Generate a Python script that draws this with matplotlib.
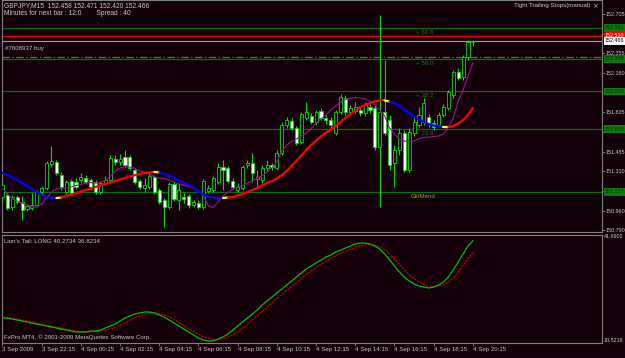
import matplotlib
matplotlib.use("Agg")
import matplotlib.pyplot as plt
from matplotlib.collections import LineCollection
from matplotlib.patches import Rectangle
import matplotlib.transforms as mtransforms

# ---------------- data ----------------
opens = [151.082, 151.100, 150.994, 151.082, 151.038, 150.976, 150.985, 151.012, 151.126, 151.162,
         151.375, 151.393, 151.277, 151.126, 151.224, 151.215, 151.233, 151.251, 151.233, 151.215,
         151.126, 151.206, 151.233, 151.419, 151.393, 151.437, 151.437, 151.322, 151.224, 151.162,
         151.171, 151.260, 151.144, 151.056, 150.994, 151.198, 151.056, 151.082, 151.091, 151.012,
         151.029, 150.994, 151.135, 151.144, 151.215, 151.348, 151.340, 151.224, 151.144, 151.162,
         151.366, 151.384, 151.242, 151.233, 151.340, 151.366, 151.340, 151.473, 151.721, 151.756,
         151.694, 151.570, 151.783, 151.801, 151.747, 151.845, 151.783, 151.765, 151.650, 151.836,
         151.960, 151.836, 151.845, 151.854, 151.827, 151.880, 151.871, 151.526, 151.836, 151.765,
         151.384, 151.499, 151.650, 151.322, 151.650, 151.721, 151.747, 151.792, 151.738, 151.721,
         151.810, 151.871, 151.987, 152.191, 152.146, 152.324, 152.458]
highs = [151.215, 151.126, 151.100, 151.100, 151.091, 151.021, 151.117, 151.144, 151.180, 151.402,
         151.535, 151.410, 151.304, 151.233, 151.242, 151.251, 151.295, 151.277, 151.251, 151.233,
         151.224, 151.269, 151.455, 151.455, 151.464, 151.499, 151.455, 151.340, 151.242, 151.251,
         151.286, 151.277, 151.162, 151.073, 151.215, 151.215, 151.206, 151.117, 151.109, 151.056,
         151.056, 151.242, 151.189, 151.269, 151.384, 151.410, 151.357, 151.251, 151.206, 151.366,
         151.410, 151.473, 151.322, 151.366, 151.410, 151.384, 151.499, 151.747, 151.792, 151.783,
         151.712, 151.836, 151.925, 151.827, 151.854, 151.871, 151.810, 151.792, 151.854, 151.996,
         151.987, 151.898, 151.925, 151.880, 151.925, 151.907, 151.898, 152.696, 152.297, 151.810,
         151.543, 151.694, 151.676, 151.694, 151.783, 151.880, 151.960, 151.818, 151.765, 151.836,
         151.907, 152.031, 152.208, 152.226, 152.341, 152.474, 152.471]
lows = [151.056, 150.967, 150.967, 151.021, 150.878, 150.958, 150.967, 150.994, 151.100, 151.144,
        151.348, 151.277, 151.144, 151.109, 151.100, 151.153, 151.206, 151.198, 151.144, 151.109,
        151.109, 151.189, 151.215, 151.366, 151.366, 151.348, 151.322, 151.198, 151.153, 151.126,
        151.153, 151.109, 151.021, 150.816, 150.976, 151.047, 150.967, 151.029, 150.985, 150.994,
        150.976, 150.976, 151.117, 151.126, 151.198, 151.144, 151.206, 151.153, 151.126, 151.144,
        151.340, 151.215, 151.171, 151.206, 151.313, 151.322, 151.322, 151.455, 151.694, 151.676,
        151.543, 151.552, 151.765, 151.729, 151.721, 151.765, 151.729, 151.694, 151.632, 151.818,
        151.810, 151.818, 151.827, 151.801, 151.801, 151.827, 151.499, 150.994, 151.632, 151.322,
        151.171, 151.455, 151.304, 151.304, 151.623, 151.703, 151.721, 151.703, 151.676, 151.703,
        151.792, 151.854, 151.960, 152.120, 152.120, 152.297, 152.420]
closes = [151.189, 150.985, 151.082, 151.038, 150.967, 151.003, 151.012, 151.126, 151.162, 151.384,
          151.402, 151.295, 151.171, 151.215, 151.117, 151.171, 151.260, 151.215, 151.171, 151.126,
          151.206, 151.233, 151.428, 151.393, 151.419, 151.366, 151.340, 151.215, 151.171, 151.189,
          151.269, 151.126, 151.038, 150.994, 151.198, 151.065, 151.144, 151.065, 151.012, 151.038,
          150.994, 151.224, 151.162, 151.251, 151.348, 151.322, 151.224, 151.171, 151.171, 151.348,
          151.384, 151.295, 151.260, 151.340, 151.366, 151.348, 151.473, 151.721, 151.765, 151.694,
          151.561, 151.818, 151.836, 151.747, 151.836, 151.783, 151.765, 151.721, 151.836, 151.969,
          151.836, 151.871, 151.880, 151.827, 151.898, 151.854, 151.526, 151.836, 151.650, 151.366,
          151.499, 151.650, 151.322, 151.659, 151.747, 151.810, 151.916, 151.729, 151.703, 151.810,
          151.880, 152.013, 152.191, 152.138, 152.324, 152.457, 152.466]

trend_ma = [151.295, 151.277, 151.255, 151.233, 151.206, 151.180, 151.153, 151.126, 151.100, 151.082,
            151.073, 151.073, 151.078, 151.091, 151.104, 151.117, 151.131, 151.144, 151.158, 151.171,
            151.184, 151.198, 151.211, 151.224, 151.238, 151.251, 151.264, 151.277, 151.286, 151.295,
            151.300, 151.304, 151.300, 151.286, 151.269, 151.251, 151.229, 151.206, 151.189, 151.162,
            151.131, 151.104, 151.087, 151.078, 151.073, 151.073, 151.078, 151.082, 151.096, 151.109,
            151.126, 151.144, 151.162, 151.184, 151.206, 151.224, 151.246, 151.277, 151.313, 151.357,
            151.402, 151.450, 151.499, 151.543, 151.583, 151.619, 151.650, 151.681, 151.712, 151.747,
            151.783, 151.818, 151.849, 151.876, 151.898, 151.916, 151.929, 151.938, 151.938, 151.929,
            151.916, 151.889, 151.858, 151.827, 151.796, 151.770, 151.747, 151.729, 151.716, 151.707,
            151.703, 151.703, 151.712, 151.734, 151.765, 151.810, 151.871]
# b = falling (blue), y = turning (yellow), r = rising (red)
trend_state = ("bbbbbbbbbbbb" "y" "rrrrrrrrrrrrrrrrrrr" "y" "bbbbbbbbbbbbb" "y"
               "rrrrrrrrrrrrrrrrrrrrrrrrrrrrrrrr" "y" "bbbbbbbbbbb" "y" "rrrrr")
fast_ma = [151.153, 151.109, 151.065, 151.047, 151.029, 151.012, 150.994, 150.994, 151.021, 151.073,
           151.126, 151.153, 151.162, 151.162, 151.171, 151.184, 151.193, 151.206, 151.211, 151.206,
           151.211, 151.229, 151.264, 151.309, 151.340, 151.348, 151.348, 151.335, 151.313, 151.304,
           151.286, 151.260, 151.251, 151.246, 151.229, 151.215, 151.198, 151.189, 151.175, 151.162,
           151.131, 151.091, 151.003, 150.989, 151.038, 151.091, 151.126, 151.153, 151.171, 151.184,
           151.206, 151.229, 151.251, 151.269, 151.304, 151.340, 151.393, 151.490, 151.543, 151.574,
           151.597, 151.623, 151.650, 151.685, 151.738, 151.774, 151.810, 151.854, 151.889, 151.925,
           151.947, 151.960, 151.965, 151.960, 151.951, 151.933, 151.898, 151.854, 151.801, 151.694,
           151.641, 151.597, 151.579, 151.570, 151.579, 151.601, 151.610, 151.614, 151.619, 151.623,
           151.641, 151.703, 151.783, 151.933, 152.031, 152.155, 152.270]

osc_green = [17.35, 17.35, 17.05, 16.76, 16.46, 16.17, 15.87, 15.57, 15.28, 14.98,
             14.68, 14.38, 14.09, 13.79, 13.49, 13.20, 13.20, 13.20, 13.49, 13.49,
             13.79, 14.38, 14.98, 15.57, 16.46, 17.35, 17.95, 18.54, 18.84, 19.13,
             19.13, 18.84, 18.24, 17.65, 16.76, 15.87, 14.98, 14.09, 13.20, 12.31,
             11.42, 10.82, 10.53, 10.52, 11.12, 11.71, 12.60, 13.79, 14.98, 16.17,
             17.35, 18.54, 19.73, 21.21, 22.40, 23.59, 24.77, 25.96, 27.15, 28.33,
             29.52, 30.71, 31.90, 32.79, 33.68, 34.57, 35.46, 36.05, 36.94, 37.53,
             38.13, 38.72, 39.32, 39.61, 39.61, 39.32, 38.72, 37.83, 36.35, 34.57,
             32.79, 31.01, 29.52, 28.33, 27.44, 26.85, 26.55, 26.26, 26.55, 27.15,
             28.04, 29.52, 31.60, 33.97, 36.35, 38.72, 40.27]
osc_red = [17.60, 17.50, 17.30, 17.05, 16.76, 16.46, 16.17, 15.87, 15.57, 15.28,
           14.98, 14.68, 14.38, 14.09, 13.79, 13.49, 13.30, 13.20, 13.20, 13.30,
           13.49, 13.70, 14.10, 14.60, 15.20, 15.90, 16.70, 17.40, 18.00, 18.50,
           18.80, 18.90, 18.70, 18.30, 17.70, 16.90, 16.00, 15.10, 14.20, 13.30,
           12.50, 11.80, 11.30, 11.00, 10.90, 11.10, 11.60, 12.30, 13.30, 14.40,
           15.60, 16.80, 18.00, 19.30, 20.60, 21.90, 23.10, 24.30, 25.50, 26.70,
           27.90, 29.10, 30.30, 31.40, 32.40, 33.30, 34.20, 35.00, 35.80, 36.50,
           37.20, 37.80, 38.30, 38.80, 39.10, 39.20, 39.00, 38.50, 37.60, 36.40,
           34.90, 33.30, 31.70, 30.20, 29.00, 28.00, 27.30, 26.90, 26.70, 26.80,
           27.20, 28.00, 29.30, 31.00, 33.00, 35.00, 36.82]

time_label_bars = [0, 8, 16, 24, 32, 40, 48, 56, 64, 72, 80, 88, 96]
time_labels = ["3 Sep 2009", "3 Sep 22:15", "4 Sep 00:15", "4 Sep 02:15", "4 Sep 04:15",
               "4 Sep 06:15", "4 Sep 08:15", "4 Sep 10:15", "4 Sep 12:15", "4 Sep 14:15",
               "4 Sep 16:15", "4 Sep 18:15", "4 Sep 20:15"]
price_ticks = [152.705, 152.530, 152.355, 152.180, 152.005, 151.835, 151.660, 151.485,
               151.310, 151.135, 150.960, 150.790]
# tick labels hidden behind the price boxes in the reference
hidden_ticks = [152.530, 152.005, 151.660, 151.135]

fib_prices = [152.581, 152.306, 152.020, 151.685, 151.127]
fib_names = ["+ 61.8", "+ 50.0", "+ 38.2", "+ 23.6", "GirlMend"]
fib_box_labels = ["152.581", "152.308", "152.020", "151.695", "151.127"]
order_price = 152.324
stop_price = 152.510
bid_price = 152.466
osc_max, osc_min = 41.6902, 10.5218

# ---------------- style ----------------
BG = "#140008"
TXT = "#c8c8c8"
CANDLE = "#00e000"
GRID_GRAY = "#808080"
FONT = "Liberation Sans"
FS = 4.4
FS_HEAD = 4.8
FS_AX = 3.9

fig = plt.figure(figsize=(6.25, 3.58), dpi=100, facecolor=BG)
W, H = 625.0, 358.0
ax = fig.add_axes([2 / W, 1 - 232 / H, 600 / W, 232 / H], facecolor=BG)
ax2 = fig.add_axes([2 / W, 1 - 343 / H, 600 / W, 108 / H], facecolor=BG)

step = 4.9
xmin = -0.1
xmax = xmin + 600 / step
for a in (ax, ax2):
    a.set_xlim(xmin, xmax)
    for s in a.spines.values():
        s.set_color(GRID_GRAY)
        s.set_linewidth(0.8)

ax.set_ylim(150.772, 152.829)
ax2.set_ylim(9.93, 41.99)

n = len(closes)
xs = list(range(n))

# fib lines
for p in fib_prices:
    ax.axhline(p, color="#0b6e0b", lw=0.9, zorder=1)
ax.axhline(order_price, color="#00b000", lw=0.9, ls=(0, (6, 2, 1, 2)), zorder=1)
ax.axhline(stop_price, color="#e00000", lw=0.9, zorder=1)
ax.axhline(bid_price, color="#9a9ab4", lw=0.8, zorder=1)

# candles
bw = 0.62
for i in xs:
    o, h, l, c = opens[i], highs[i], lows[i], closes[i]
    ax.plot([i, i], [l, h], color=CANDLE, lw=0.8, zorder=3, solid_capstyle="butt")
    top, bot = max(o, c), min(o, c)
    face = "#ffffff" if c < o else "#000000"
    ax.add_patch(Rectangle((i - bw / 2, bot), bw, max(top - bot, 0.002),
                           facecolor=face, edgecolor=CANDLE, lw=0.6, zorder=4))

# purple fast line
ax.plot(xs, fast_ma, color="#9a109a", lw=0.8, zorder=5)

# colored trend ma
cmap = {"b": "#0000ff", "y": "#ffff00", "r": "#ff0000"}
segs, cols = [], []
for i in range(1, n):
    segs.append([(i - 1, trend_ma[i - 1]), (i, trend_ma[i])])
    cols.append(cmap[trend_state[i]])
ax.add_collection(LineCollection(segs, colors=cols, linewidths=1.6, zorder=6, capstyle="round"))

# price axis
ax.yaxis.tick_right()
ax.set_yticks(price_ticks)
ax.set_yticklabels(["" if p in hidden_ticks else f"{p:.3f}" for p in price_ticks])
ax.tick_params(axis="y", colors=GRID_GRAY, labelcolor=TXT, labelsize=FS_AX, length=2, pad=0.8, width=0.6)
ax.tick_params(axis="x", bottom=False, labelbottom=False)
for lab in ax.get_yticklabels():
    lab.set_family(FONT)

# price boxes
trans = mtransforms.blended_transform_factory(ax.transAxes, ax.transData)
def price_box(p, txt, fc, tc):
    ax.text(1.0045, p, txt, transform=trans, ha="left", va="center", fontsize=FS_AX, color=tc,
            family=FONT, clip_on=False, zorder=10,
            bbox=dict(boxstyle="square,pad=0.2", fc=fc, ec="none"))
for p, t in zip(fib_prices, fib_box_labels):
    price_box(p, t, "#0b7a0b", "#003000")
price_box(stop_price, f"{stop_price:.3f}", "#ff0000", "#ffffff")
price_box(bid_price, f"{bid_price:.3f}", "#ffffff", "#000000")

# fib level names
for p, name in zip(fib_prices, fib_names):
    col = "#a0a020" if name == "GirlMend" else "#157a15"
    ax.text(84.3 if name != "GirlMend" else 83.3, p - 0.02, name, fontsize=FS, color=col,
            family=FONT, va="top", ha="left", zorder=2)

# header texts
ax.text(0.004, 0.99, "GBPJPY,M15  152.458 152.471 152.420 152.466", transform=ax.transAxes,
        fontsize=FS_HEAD, color=TXT, family=FONT, va="top", ha="left")
ax.text(0.004, 0.955, "Minutes for next bar : 12:0        Spread : 40", transform=ax.transAxes,
        fontsize=FS_HEAD, color=TXT, family=FONT, va="top", ha="left")
ax.text(0.98, 0.985, "Tight Trailing Stops(manual)", transform=ax.transAxes,
        fontsize=FS, color=TXT, family=FONT, va="top", ha="right")
ax.text(0.993, 0.988, "×", transform=ax.transAxes, fontsize=FS + 0.5, color=TXT,
        family="DejaVu Sans", va="top", ha="right")
ax.text(0.5, order_price + 0.055, "#7608937 buy", fontsize=FS, color=TXT, family=FONT,
        va="bottom", ha="left")

# oscillator
ax2.plot(xs, osc_red, color="#d00000", lw=0.8, ls=(0, (2, 1)), zorder=3)
ax2.plot(xs, osc_green, color="#00c000", lw=0.9, zorder=4)
ax2.text(0.004, 0.96, "Lion's Tail: LONG 40.2734 36.8234", transform=ax2.transAxes,
         fontsize=FS, color=TXT, family=FONT, va="top", ha="left")
ax2.text(0.004, 0.03, "FxPro MT4, © 2001-2009 MetaQuotes Software Corp.", transform=ax2.transAxes,
         fontsize=FS, color=TXT, family=FONT, va="bottom", ha="left")
ax2.set_yticks([])
t2 = mtransforms.blended_transform_factory(ax2.transAxes, ax2.transData)
ax2.text(1.003, 41.4, f"{osc_max:.4f}", transform=t2,
         fontsize=FS_AX, color=TXT, family=FONT, va="center", ha="left", clip_on=False)
ax2.text(1.003, 10.6, f"{osc_min:.4f}", transform=t2,
         fontsize=FS_AX, color=TXT, family=FONT, va="center", ha="left", clip_on=False)

ax2.set_xticks(time_label_bars)
ax2.set_xticklabels(time_labels)
ax2.tick_params(axis="x", colors=GRID_GRAY, labelcolor=TXT, labelsize=FS, length=2, pad=1, width=0.6)
for lab in ax2.get_xticklabels():
    lab.set_horizontalalignment("left")
    lab.set_family(FONT)

fig.savefig("out.png", dpi=100, facecolor=BG)
